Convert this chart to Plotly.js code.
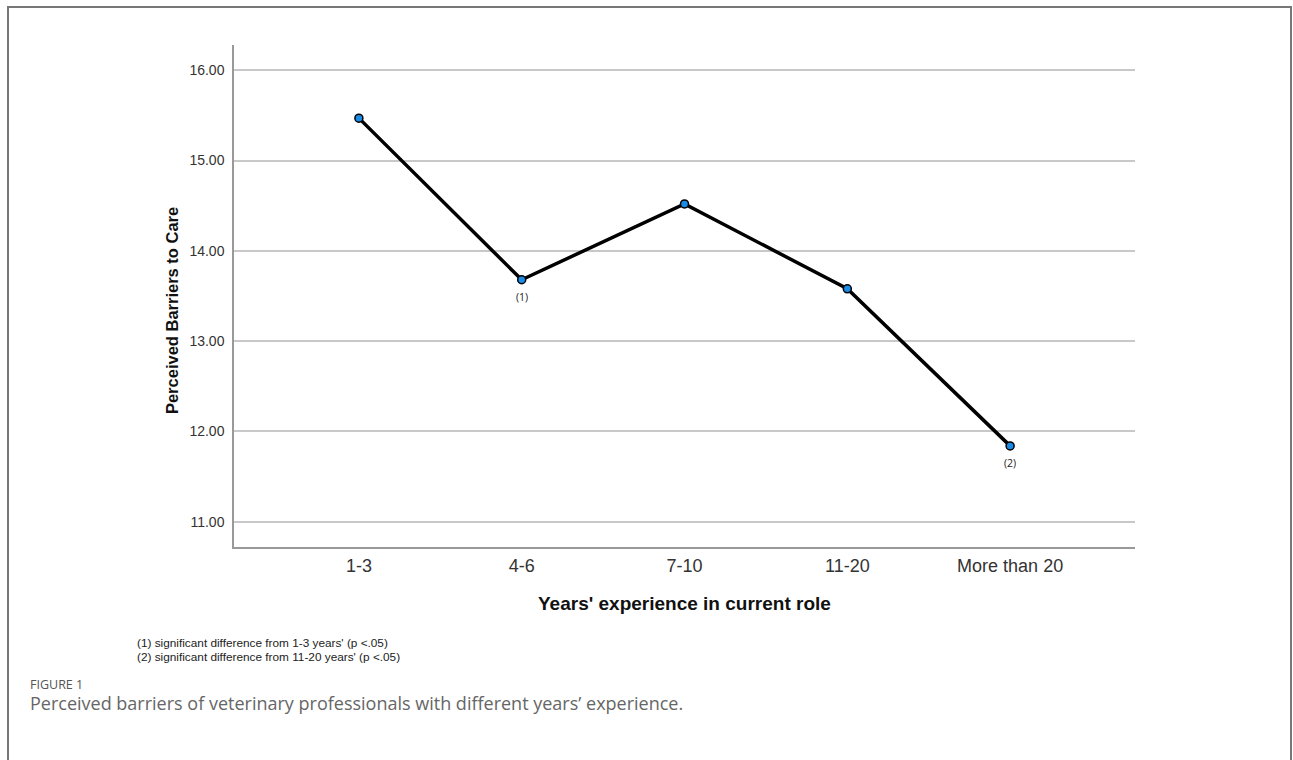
<!DOCTYPE html>
<html>
<head>
<meta charset="utf-8">
<script src="https://cdn.plot.ly/plotly-3.0.1.min.js"></script>
<style>
  html, body { margin: 0; padding: 0; background: #fff; }
  #wrap { position: relative; width: 1293px; height: 760px; overflow: hidden; }
  #frame { position: absolute; left: 7px; top: 6px; width: 1285px; height: 800px; border: 2px solid #777; box-sizing: border-box; pointer-events: none; }
  #chart { position: absolute; left: 0; top: 0; width: 1293px; height: 760px; }
</style>
</head>
<body>
<div id="wrap">
  <div id="chart"></div>
  <div id="frame"></div>
</div>
<script>
const categories = ["1-3", "4-6", "7-10", "11-20", "More than 20"];
const barrierMeans = [15.47, 13.68, 14.52, 13.58, 11.84];
const yTickValues = [11, 12, 13, 14, 15, 16];
const yTickLabels = ["11.00", "12.00", "13.00", "14.00", "15.00", "16.00"];
const pointNotes = ["", "(1)", "", "", "(2)"];
const xTitle = "Years' experience in current role";
const yTitle = "Perceived Barriers to Care";
const footnotes = [
  "(1) significant difference from 1-3 years' (p <.05)",
  "(2) significant difference from 11-20 years' (p <.05)"
];
const figureLabel = "FIGURE 1";
const figureCaption = "Perceived barriers of veterinary professionals with different years\u2019 experience.";

const trace = {
  x: categories,
  y: barrierMeans,
  type: "scatter",
  mode: "lines+markers",
  line: { color: "#000", width: 3.5 },
  marker: { color: "#1a8ce6", size: 8, line: { color: "#000", width: 1.5 } },
  hoverinfo: "x+y"
};

const annotations = [];
categories.forEach((c, i) => {
  if (pointNotes[i]) {
    annotations.push({
      x: c, y: barrierMeans[i], xref: "x", yref: "y",
      text: pointNotes[i], showarrow: false, yshift: -17,
      font: { family: "Open Sans, Noto Sans, sans-serif", size: 10.5, color: "#222" }
    });
  }
});
annotations.push({
  xref: "paper", yref: "paper", x: 0.5, y: -0.1135, yanchor: "middle", xanchor: "center",
  text: "<b>" + xTitle + "</b>", showarrow: false,
  font: { family: "Arial, Liberation Sans, sans-serif", size: 19, color: "#111" }
});
annotations.push({
  xref: "paper", yref: "paper", x: -0.0688, y: 0.470, xanchor: "center", yanchor: "middle",
  text: "<b>" + yTitle + "</b>", textangle: -90, showarrow: false,
  font: { family: "Arial, Liberation Sans, sans-serif", size: 16.5, color: "#111" }
});
footnotes.forEach((t, i) => {
  annotations.push({
    xref: "paper", yref: "paper", x: -0.1099, y: -0.1912 - i * 0.0279, xanchor: "left", yanchor: "middle",
    text: t, showarrow: false,
    font: { family: "Liberation Sans Narrow, Arial Narrow, Arial, sans-serif", size: 11.8, color: "#222" }
  });
});
annotations.push({
  xref: "paper", yref: "paper", x: -0.2286, y: -0.2749, xanchor: "left", yanchor: "middle",
  text: figureLabel, showarrow: false,
  font: { family: "Open Sans, Noto Sans, sans-serif", size: 12.5, color: "#555" }
});
annotations.push({
  xref: "paper", yref: "paper", x: -0.2286, y: -0.3108, xanchor: "left", yanchor: "middle",
  text: figureCaption, showarrow: false,
  font: { family: "Open Sans, Noto Sans, sans-serif", size: 18, color: "#666" }
});

const layout = {
  width: 1293, height: 760,
  margin: { l: 234, r: 158, t: 45, b: 213 },
  paper_bgcolor: "#fff", plot_bgcolor: "#fff",
  showlegend: false,
  xaxis: {
    type: "category",
    range: [-0.767, 4.767],
    showgrid: false, zeroline: false,
    showline: true, linecolor: "#999", linewidth: 1.5,
    ticks: "", ticklabelstandoff: 2,
    tickfont: { family: "Arial, Liberation Sans, sans-serif", size: 18, color: "#333" }
  },
  yaxis: {
    range: [10.72, 16.28],
    tickvals: yTickValues, ticktext: yTickLabels,
    showgrid: true, gridcolor: "#c8c8c8", gridwidth: 1.5,
    zeroline: false,
    showline: true, linecolor: "#999", linewidth: 1.5,
    ticks: "", ticklabelstandoff: 5,
    tickfont: { family: "Arial, Liberation Sans, sans-serif", size: 14, color: "#333" }
  },
  annotations: annotations
};

Plotly.newPlot("chart", [trace], layout, { displayModeBar: false, staticPlot: false });
</script>
</body>
</html>
